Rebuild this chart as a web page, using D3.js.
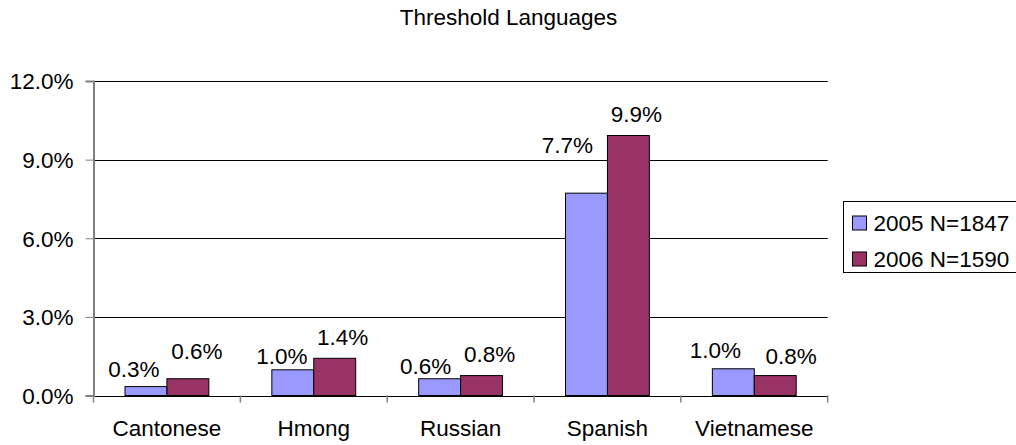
<!DOCTYPE html>
<html>
<head>
<meta charset="utf-8">
<script src="https://cdn.jsdelivr.net/npm/d3@7"></script>
<style>
  body { margin: 0; background: #fff; }
  text { font-family: "Liberation Sans", Arial, sans-serif; fill: #000; }
</style>
</head>
<body>
<script>
// Chart data
var categories = ["Cantonese", "Hmong", "Russian", "Spanish", "Vietnamese"];
var seriesNames = ["2005 N=1847", "2006 N=1590"];
var values2005 = [0.34, 0.98, 0.64, 7.72, 1.02];
var values2006 = [0.64, 1.42, 0.76, 9.92, 0.76];
var yTicks = [0, 3, 6, 9, 12];

// label nudges (dx from bar centre, gap above bar top)
var labelDx = [[-12, -11, -14, -19, -18], [9, 8, 8, 8, 16]];
var labelGap = [[10, 6, 5, 40, 11], [20, 13, 14, 14, 12]];

var width = 1016;
var height = 445;
var colors = ["#9999FF", "#993366"];
var fontSize = "22.5px";

var svg = d3.select("body")
  .append("svg")
  .attr("width", width)
  .attr("height", height);

var plot = { left: 93.5, right: 827.7, top: 81, bottom: 395.5 };

var x = d3.scaleBand()
  .domain(categories)
  .range([plot.left, plot.right]);

var x1 = d3.scaleBand()
  .domain([0, 1])
  .range([31.5, x.bandwidth() - 31.5]);

var y = d3.scaleLinear()
  .domain([0, 12])
  .range([plot.bottom, plot.top]);

// title
svg.append("text")
  .attr("x", 508.5)
  .attr("y", 25)
  .attr("text-anchor", "middle")
  .style("font-size", fontSize)
  .text("Threshold Languages");

// gridlines
svg.selectAll("line.grid")
  .data(yTicks)
  .enter()
  .append("line")
  .attr("class", "grid")
  .attr("x1", plot.left)
  .attr("x2", plot.right)
  .attr("y1", function(d) { return Math.round(y(d)) + 0.5; })
  .attr("y2", function(d) { return Math.round(y(d)) + 0.5; })
  .style("stroke", "#000")
  .style("stroke-width", 1);

// y axis
var yAxis = d3.axisLeft(y)
  .tickValues(yTicks)
  .tickSize(8)
  .tickPadding(12)
  .tickFormat(function(d) { return d3.format(".1f")(d) + "%"; });

var gy = svg.append("g")
  .attr("transform", "translate(" + plot.left + ",0)")
  .call(yAxis);
gy.select(".domain").style("stroke", "#808080").style("stroke-width", 2);
gy.selectAll(".tick line").style("stroke", "#808080");
gy.selectAll(".tick text")
  .style("font-size", fontSize)
  .style("font-family", "Liberation Sans, Arial, sans-serif")
  .attr("dy", "0.35em");

// x axis ticks at category boundaries
var boundaries = categories.map(function(c) { return x(c); }).concat([plot.right]);
svg.selectAll("line.xtick")
  .data(boundaries)
  .enter()
  .append("line")
  .attr("class", "xtick")
  .attr("x1", function(d) { return d; })
  .attr("x2", function(d) { return d; })
  .attr("y1", plot.bottom)
  .attr("y2", plot.bottom + 7)
  .style("stroke", "#808080")
  .style("stroke-width", 1.5);

svg.selectAll("text.cat")
  .data(categories)
  .enter()
  .append("text")
  .attr("class", "cat")
  .attr("x", function(d) { return x(d) + x.bandwidth() / 2; })
  .attr("y", 436)
  .attr("text-anchor", "middle")
  .style("font-size", fontSize)
  .text(function(d) { return d; });

// bars
var series = [values2005, values2006];
series.forEach(function(vals, s) {
  var g = svg.append("g");
  g.selectAll("rect")
    .data(vals)
    .enter()
    .append("rect")
    .attr("x", function(d, i) { return x(categories[i]) + x1(s); })
    .attr("y", function(d) { return y(d); })
    .attr("width", x1.bandwidth())
    .attr("height", function(d) { return plot.bottom - y(d); })
    .style("fill", colors[s])
    .style("stroke", "#000")
    .style("stroke-width", 1);

  g.selectAll("text")
    .data(vals)
    .enter()
    .append("text")
    .attr("x", function(d, i) { return x(categories[i]) + x1(s) + x1.bandwidth() / 2 + labelDx[s][i]; })
    .attr("y", function(d, i) { return y(d) - labelGap[s][i]; })
    .attr("text-anchor", "middle")
    .style("font-size", fontSize)
    .text(function(d) { return d3.format(".1f")(d) + "%"; });
});

// legend
var legend = svg.append("g")
  .attr("transform", "translate(843.5,201.5)");
legend.append("rect")
  .attr("width", 200)
  .attr("height", 71)
  .style("fill", "#fff")
  .style("stroke", "#000")
  .style("stroke-width", 1);

var items = legend.selectAll("g.item")
  .data(seriesNames)
  .enter()
  .append("g")
  .attr("class", "item")
  .attr("transform", function(d, i) { return "translate(0," + i * 36 + ")"; });
items.append("rect")
  .attr("x", 9)
  .attr("y", 14.5)
  .attr("width", 14)
  .attr("height", 14)
  .style("fill", function(d, i) { return colors[i]; })
  .style("stroke", "#000");
items.append("text")
  .attr("x", 30)
  .attr("y", 29.5)
  .style("font-size", fontSize)
  .text(function(d) { return d; });
</script>
</body>
</html>
